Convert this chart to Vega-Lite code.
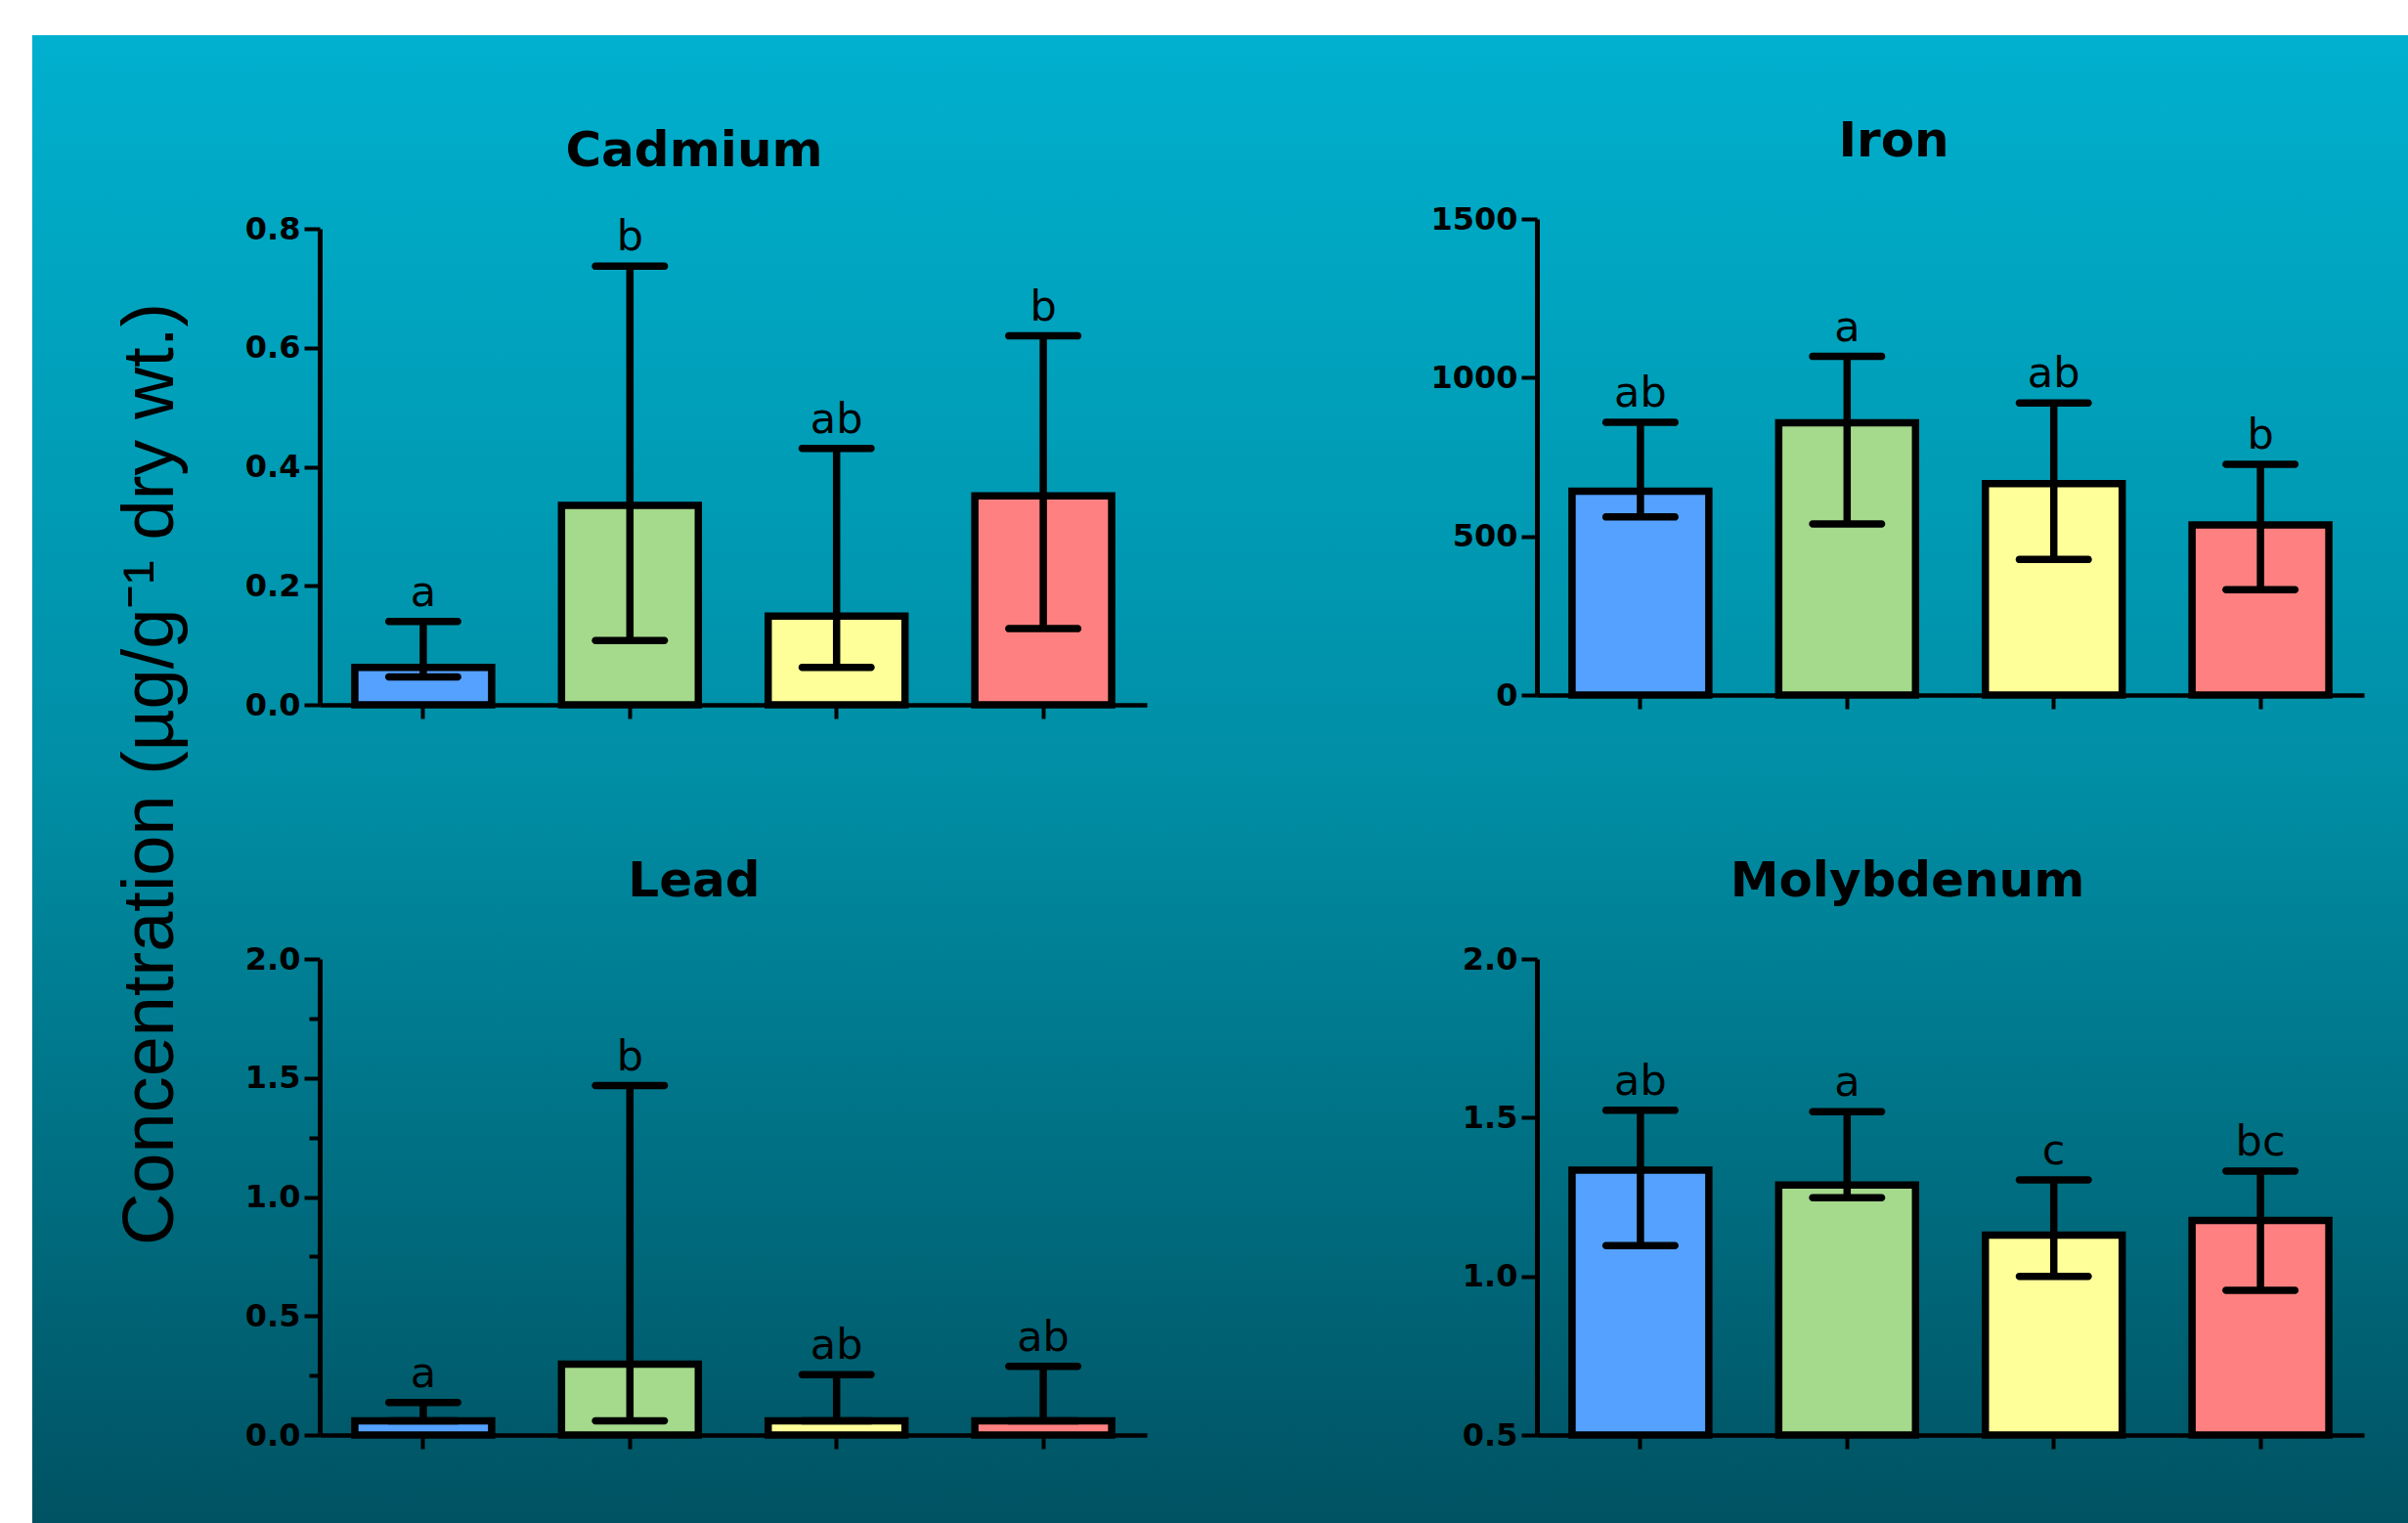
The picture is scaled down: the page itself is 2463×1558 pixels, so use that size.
{
  "$schema": "https://vega.github.io/schema/vega-lite/v6.json",
  "background": "white",
  "padding": {"left": 33, "top": 36, "right": 0, "bottom": 0},
  "datasets": {
    "blank": [{}],
    "conc": [
      {"metal": "Cadmium", "site": "A", "mean": 0.063, "low": 0.047, "high": 0.140, "letter": "a"},
      {"metal": "Cadmium", "site": "B", "mean": 0.335, "low": 0.108, "high": 0.737, "letter": "b"},
      {"metal": "Cadmium", "site": "C", "mean": 0.149, "low": 0.063, "high": 0.431, "letter": "ab"},
      {"metal": "Cadmium", "site": "D", "mean": 0.351, "low": 0.128, "high": 0.620, "letter": "b"},
      {"metal": "Iron", "site": "A", "mean": 642, "low": 561, "high": 859, "letter": "ab"},
      {"metal": "Iron", "site": "B", "mean": 858, "low": 539, "high": 1067, "letter": "a"},
      {"metal": "Iron", "site": "C", "mean": 666, "low": 427, "high": 920, "letter": "ab"},
      {"metal": "Iron", "site": "D", "mean": 536, "low": 332, "high": 727, "letter": "b"},
      {"metal": "Lead", "site": "A", "mean": 0.060, "low": 0.060, "high": 0.137, "letter": "a"},
      {"metal": "Lead", "site": "B", "mean": 0.298, "low": 0.060, "high": 1.468, "letter": "b"},
      {"metal": "Lead", "site": "C", "mean": 0.060, "low": 0.060, "high": 0.254, "letter": "ab"},
      {"metal": "Lead", "site": "D", "mean": 0.060, "low": 0.060, "high": 0.289, "letter": "ab"},
      {"metal": "Molybdenum", "site": "A", "mean": 1.335, "low": 1.097, "high": 1.523, "letter": "ab"},
      {"metal": "Molybdenum", "site": "B", "mean": 1.288, "low": 1.248, "high": 1.519, "letter": "a"},
      {"metal": "Molybdenum", "site": "C", "mean": 1.130, "low": 1.000, "high": 1.304, "letter": "c"},
      {"metal": "Molybdenum", "site": "D", "mean": 1.176, "low": 0.956, "high": 1.332, "letter": "bc"}
    ]
  },
  "spacing": 0,
  "bounds": "flush",
  "vconcat": [
    {"data": {"name": "blank"}, "width": 10, "height": 188, "mark": {"type": "text", "text": ""}, "encoding": {}},
    {
      "spacing": 0,
      "bounds": "flush",
      "hconcat": [
        {"data": {"name": "blank"}, "width": 294, "height": 10, "mark": {"type": "text", "text": ""}, "encoding": {}},
        {
          "title": {"text": "Concentration (µg/g⁻¹ dry wt.)", "orient": "left", "anchor": "middle", "frame": "bounds", "font": "Liberation Sans", "fontSize": 74, "fontWeight": "normal", "offset": 57, "dx": 10},
          "spacing": 1245,
          "bounds": "flush",
          "hconcat": [
            {
              "spacing": 757,
              "bounds": "flush",
              "vconcat": [
                {
                  "spacing": 0,
                  "bounds": "flush",
                  "vconcat": [
                    {"data": {"name": "blank"}, "width": 10, "height": 10, "mark": {"type": "text", "text": ""}, "encoding": {}},
                    {
                      "data": {"name": "conc"},
                      "transform": [{"filter": "datum.metal === 'Cadmium'"}],
                      "title": {"text": "Cadmium", "dx": -40},
                      "width": 846, "height": 487,
                      "encoding": {"x": {"field": "site", "type": "nominal", "title": null, "scale": {"paddingInner": 0.338, "paddingOuter": 0.17}, "axis": {"labels": false, "tickSize": 14, "domainWidth": 4.5}}},
                      "layer": [
                        {"mark": {"type": "bar", "stroke": "black", "strokeWidth": 7.5}, "encoding": {"y": {"field": "mean", "type": "quantitative", "title": null, "scale": {"domain": [0, 0.8], "nice": false}, "axis": {"values": [0, 0.2, 0.4, 0.6, 0.8], "format": ".1f"}}, "color": {"field": "site", "type": "nominal", "legend": null, "scale": {"range": ["#55A1FF", "#A5D98C", "#FFFF99", "#FF8080"]}}}},
                        {"mark": {"type": "rule", "strokeWidth": 7.5, "color": "black"}, "encoding": {"y": {"field": "low", "type": "quantitative", "title": null}, "y2": {"field": "high"}}},
                        {"mark": {"type": "tick", "size": 78, "thickness": 7.5, "cornerRadius": 3.7, "color": "black", "opacity": 1}, "encoding": {"y": {"field": "high", "type": "quantitative", "title": null}}},
                        {"mark": {"type": "tick", "size": 78, "thickness": 7.5, "cornerRadius": 3.7, "color": "black", "opacity": 1}, "encoding": {"y": {"field": "low", "type": "quantitative", "title": null}}},
                        {"mark": {"type": "text", "font": "DejaVu Sans", "fontSize": 43, "baseline": "alphabetic", "dy": -16, "color": "black"}, "encoding": {"y": {"field": "high", "type": "quantitative", "title": null}, "text": {"field": "letter"}}}
                      ]
                    }
                  ]
                },
                {
                  "data": {"name": "conc"},
                  "transform": [{"filter": "datum.metal === 'Lead'"}],
                  "title": {"text": "Lead", "dx": -40},
                  "width": 846, "height": 487,
                  "encoding": {"x": {"field": "site", "type": "nominal", "title": null, "scale": {"paddingInner": 0.338, "paddingOuter": 0.17}, "axis": {"labels": false, "tickSize": 14, "domainWidth": 4.5}}},
                  "layer": [
                    {"mark": {"type": "bar", "stroke": "black", "strokeWidth": 7.5}, "encoding": {"y": {"field": "mean", "type": "quantitative", "title": null, "scale": {"domain": [0, 2], "nice": false}, "axis": {"values": [0, 0.25, 0.5, 0.75, 1, 1.25, 1.5, 1.75, 2], "labelExpr": "abs(datum.value * 2 - round(datum.value * 2)) < 0.001 ? format(datum.value, '.1f') : ''", "tickSize": {"condition": {"test": "abs(datum.value * 2 - round(datum.value * 2)) < 0.001", "value": 16}, "value": 11}}}, "color": {"field": "site", "type": "nominal", "legend": null, "scale": {"range": ["#55A1FF", "#A5D98C", "#FFFF99", "#FF8080"]}}}},
                    {"mark": {"type": "rule", "strokeWidth": 7.5, "color": "black"}, "encoding": {"y": {"field": "low", "type": "quantitative", "title": null}, "y2": {"field": "high"}}},
                    {"mark": {"type": "tick", "size": 78, "thickness": 7.5, "cornerRadius": 3.7, "color": "black", "opacity": 1}, "encoding": {"y": {"field": "high", "type": "quantitative", "title": null}}},
                    {"mark": {"type": "tick", "size": 78, "thickness": 7.5, "cornerRadius": 3.7, "color": "black", "opacity": 1}, "encoding": {"y": {"field": "low", "type": "quantitative", "title": null}}},
                    {"mark": {"type": "text", "font": "DejaVu Sans", "fontSize": 43, "baseline": "alphabetic", "dy": -16, "color": "black"}, "encoding": {"y": {"field": "high", "type": "quantitative", "title": null}, "text": {"field": "letter"}}}
                  ]
                }
              ]
            },
            {
              "spacing": 270,
              "bounds": "flush",
              "vconcat": [
                {
                  "data": {"name": "conc"},
                  "transform": [{"filter": "datum.metal === 'Iron'"}],
                  "title": {"text": "Iron", "dx": -58},
                  "width": 846, "height": 487,
                  "encoding": {"x": {"field": "site", "type": "nominal", "title": null, "scale": {"paddingInner": 0.338, "paddingOuter": 0.17}, "axis": {"labels": false, "tickSize": 14, "domainWidth": 4.5}}},
                  "layer": [
                    {"mark": {"type": "bar", "stroke": "black", "strokeWidth": 7.5}, "encoding": {"y": {"field": "mean", "type": "quantitative", "title": null, "scale": {"domain": [0, 1500], "nice": false}, "axis": {"values": [0, 500, 1000, 1500], "format": "d"}}, "color": {"field": "site", "type": "nominal", "legend": null, "scale": {"range": ["#55A1FF", "#A5D98C", "#FFFF99", "#FF8080"]}}}},
                    {"mark": {"type": "rule", "strokeWidth": 7.5, "color": "black"}, "encoding": {"y": {"field": "low", "type": "quantitative", "title": null}, "y2": {"field": "high"}}},
                    {"mark": {"type": "tick", "size": 78, "thickness": 7.5, "cornerRadius": 3.7, "color": "black", "opacity": 1}, "encoding": {"y": {"field": "high", "type": "quantitative", "title": null}}},
                    {"mark": {"type": "tick", "size": 78, "thickness": 7.5, "cornerRadius": 3.7, "color": "black", "opacity": 1}, "encoding": {"y": {"field": "low", "type": "quantitative", "title": null}}},
                    {"mark": {"type": "text", "font": "DejaVu Sans", "fontSize": 43, "baseline": "alphabetic", "dy": -16, "color": "black"}, "encoding": {"y": {"field": "high", "type": "quantitative", "title": null}, "text": {"field": "letter"}}}
                  ]
                },
                {
                  "data": {"name": "conc"},
                  "transform": [{"filter": "datum.metal === 'Molybdenum'"}],
                  "title": {"text": "Molybdenum", "dx": -44},
                  "width": 846, "height": 487,
                  "encoding": {"x": {"field": "site", "type": "nominal", "title": null, "scale": {"paddingInner": 0.338, "paddingOuter": 0.17}, "axis": {"labels": false, "tickSize": 14, "domainWidth": 4.5}}},
                  "layer": [
                    {"mark": {"type": "bar", "stroke": "black", "strokeWidth": 7.5}, "encoding": {"y": {"field": "mean", "type": "quantitative", "title": null, "scale": {"domain": [0.5, 2], "nice": false, "zero": false, "clamp": true}, "axis": {"values": [0.5, 1, 1.5, 2], "format": ".1f"}}, "color": {"field": "site", "type": "nominal", "legend": null, "scale": {"range": ["#55A1FF", "#A5D98C", "#FFFF99", "#FF8080"]}}}},
                    {"mark": {"type": "rule", "strokeWidth": 7.5, "color": "black"}, "encoding": {"y": {"field": "low", "type": "quantitative", "title": null}, "y2": {"field": "high"}}},
                    {"mark": {"type": "tick", "size": 78, "thickness": 7.5, "cornerRadius": 3.7, "color": "black", "opacity": 1}, "encoding": {"y": {"field": "high", "type": "quantitative", "title": null}}},
                    {"mark": {"type": "tick", "size": 78, "thickness": 7.5, "cornerRadius": 3.7, "color": "black", "opacity": 1}, "encoding": {"y": {"field": "low", "type": "quantitative", "title": null}}},
                    {"mark": {"type": "text", "font": "DejaVu Sans", "fontSize": 43, "baseline": "alphabetic", "dy": -16, "color": "black"}, "encoding": {"y": {"field": "high", "type": "quantitative", "title": null}, "text": {"field": "letter"}}}
                  ]
                }
              ]
            }
          ]
        }
      ]
    }
  ],
  "config": {
    "width": 2430,
    "height": 1522,
    "group": {"fill": {"gradient": "linear", "x1": 0, "y1": 0, "x2": 0, "y2": 1, "stops": [{"offset": 0, "color": "#00B0CE"}, {"offset": 0.5, "color": "#008EA5"}, {"offset": 1, "color": "#005262"}]}},
    "view": {"stroke": null},
    "axis": {"domainColor": "black", "domainWidth": 5, "tickColor": "black", "tickWidth": 4, "tickSize": 16, "labelColor": "black", "labelFont": "DejaVu Sans", "labelFontWeight": "bold", "labelFontSize": 32, "labelPadding": 4, "grid": false},
    "title": {"color": "black", "font": "DejaVu Sans", "fontSize": 50, "fontWeight": "bold", "anchor": "middle", "frame": "group", "offset": 38}
  }
}
